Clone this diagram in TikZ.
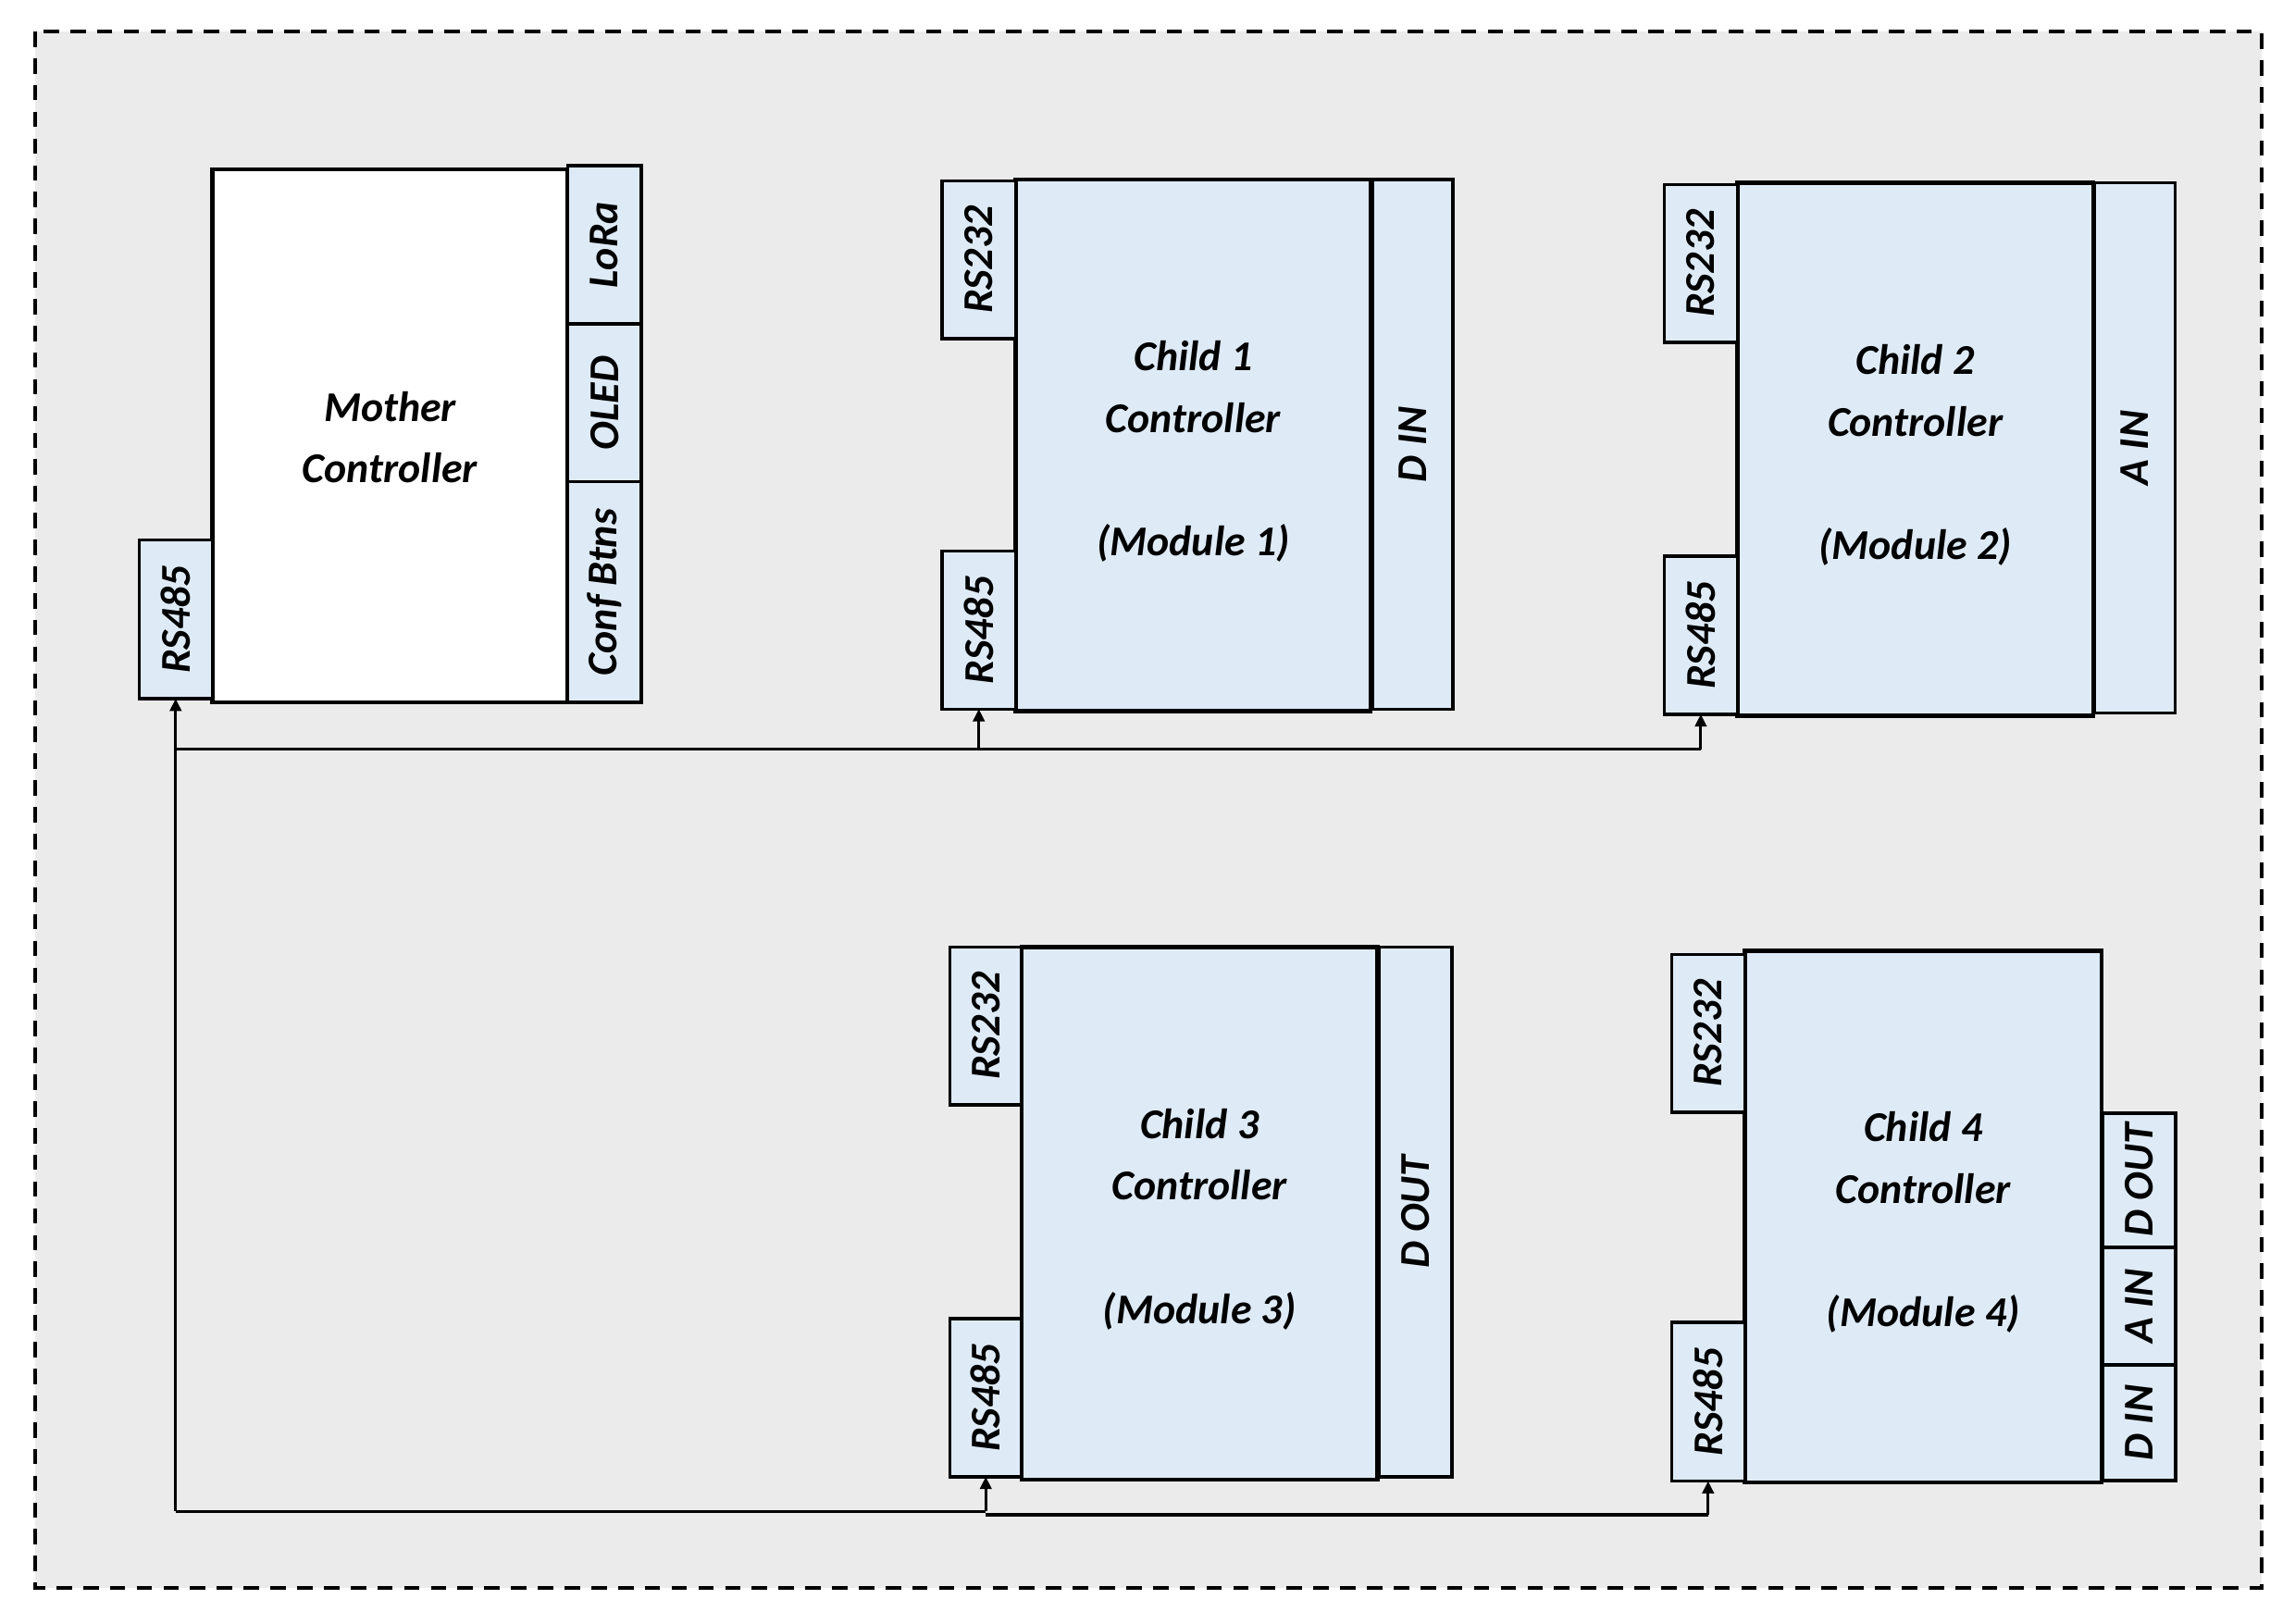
\documentclass[tikz,border=0pt]{standalone}
\usepackage{fontspec}
\setmainfont{Carlito}
\usetikzlibrary{arrows.meta}
\definecolor{bggray}{HTML}{EBEBEB}
\definecolor{lblue}{HTML}{DEEBF7}
\newcommand\bx[7]{\node[#6, minimum width={(#4-#2)*0.02cm}, minimum height={(#5-#3)*0.02cm}] (#1) at ({(#2+#4)/2},{(#3+#5)/2}) {#7};}
\tikzset{
  mainbox/.style={draw=black, line width=1.6pt, fill=lblue, inner sep=0pt, outer sep=0pt},
  motherbox/.style={mainbox, fill=white},
  maintext/.style={align=center, inner sep=0pt, font=\fontsize{16.5}{24}\selectfont\bfseries\itshape},
  portbox/.style={draw=black, line width=1.25pt, fill=lblue, inner sep=0pt, outer sep=0pt},
  porttext/.style={rotate=90, inner sep=0pt, font=\fontsize{16.5}{20}\selectfont\bfseries\itshape},
  busline/.style={line width=1.1pt, draw=black},
  busarrow/.style={line width=1.1pt, draw=black, -{Triangle[length=4.8pt,width=4.5pt]}},
}
\begin{document}
\begin{tikzpicture}[x=0.02cm, y=-0.02cm]
\useasboundingbox (0,0) rectangle (1568,1109);
\fill[white] (0,0) rectangle (1568,1109);
\draw[fill=bggray, line width=1.4pt, dash pattern=on 6pt off 4.4pt] (24,21.5) rectangle (1545,1085);

% Mother controller
\bx{mother}{145}{115.6}{388}{480}{motherbox}{}
\node[maintext] (mothert) at ([yshift=-0.02cm]mother.center) {Mother\\Controller};
\bx{mlora}{388}{113.2}{438}{221.4}{portbox}{}
\bx{moled}{388}{221.4}{438}{329.2}{portbox}{}
\bx{mconf}{388}{329.2}{438}{480}{portbox}{}
\bx{mrs485}{95}{368.8}{145}{477.4}{portbox}{}
\node[porttext] (mlorat) at (mlora) {LoRa};
\node[porttext] (moledt) at (moled) {OLED};
\node[porttext] (mconft) at (mconf) {Conf Btns};
\node[porttext] (mrs485t) at (mrs485) {RS485};

% Child 1
\bx{c1}{694}{122.8}{936.5}{486}{mainbox}{}
\node[maintext] (c1t) at ([yshift=-0.08cm]c1.center) {Child 1\\Controller\\\mbox{}\\(Module 1)};
\bx{c1rs232}{643.5}{123.5}{694}{231.4}{portbox}{}
\bx{c1rs485}{643.5}{376.5}{694}{484.5}{portbox}{}
\bx{c1din}{937.7}{122.8}{992.7}{484.5}{portbox}{}
\node[porttext] (c1rs232t) at (c1rs232) {RS232};
\node[porttext] (c1rs485t) at (c1rs485) {RS485};
\node[porttext] (c1dint) at (c1din) {D IN};

% Child 2
\bx{c2}{1187}{125}{1430}{489}{mainbox}{}
\node[maintext] (c2t) at ([yshift=-0.08cm]c2.center) {Child 2\\Controller\\\mbox{}\\(Module 2)};
\bx{c2rs232}{1137}{126}{1187}{234}{portbox}{}
\bx{c2rs485}{1137}{380}{1187}{488}{portbox}{}
\bx{c2ain}{1431}{125}{1486}{487}{portbox}{}
\node[porttext] (c2rs232t) at (c2rs232) {RS232};
\node[porttext] (c2rs485t) at (c2rs485) {RS485};
\node[porttext] (c2aint) at (c2ain) {A IN};

% Child 3
\bx{c3}{698}{647}{941}{1011}{mainbox}{}
\node[maintext] (c3t) at ([yshift=-0.08cm]c3.center) {Child 3\\Controller\\\mbox{}\\(Module 3)};
\bx{c3rs232}{649}{647}{698}{755}{portbox}{}
\bx{c3rs485}{649}{901}{698}{1009}{portbox}{}
\bx{c3dout}{942}{647}{992}{1009}{portbox}{}
\node[porttext] (c3rs232t) at (c3rs232) {RS232};
\node[porttext] (c3rs485t) at (c3rs485) {RS485};
\node[porttext] (c3doutt) at (c3dout) {D OUT};

% Child 4
\bx{c4}{1192}{649.5}{1436}{1013}{mainbox}{}
\node[maintext] (c4t) at ([yshift=-0.08cm]c4.center) {Child 4\\Controller\\\mbox{}\\(Module 4)};
\bx{c4rs232}{1142}{652}{1192}{760}{portbox}{}
\bx{c4rs485}{1142}{903.5}{1192}{1012}{portbox}{}
\bx{c4dout}{1436.5}{760.6}{1486.5}{852.3}{portbox}{}
\bx{c4ain}{1436.5}{852.3}{1486.5}{932.6}{portbox}{}
\bx{c4din}{1436.5}{932.6}{1486.5}{1011.7}{portbox}{}
\node[porttext] (c4rs232t) at (c4rs232) {RS232};
\node[porttext] (c4rs485t) at (c4rs485) {RS485};
\node[porttext] (c4doutt) at (c4dout) {D OUT};
\node[porttext] (c4aint) at (c4ain) {A IN};
\node[porttext] (c4dint) at (c4din) {D IN};

% Buses
\coordinate (tb) at (0,512);
\coordinate (bb) at (0,1032.5);
\coordinate (bb2) at (0,1035);
\draw[busline] (mrs485.south |- tb) -- (c2rs485.south |- tb);
\draw[busline] (mrs485.south |- bb) -- (c3rs485.south |- bb);
\draw[busline] (c3rs485.south |- bb2) -- (c4rs485.south |- bb2);
\draw[busarrow] (mrs485.south |- bb) -- (mrs485.south);
\draw[busarrow] (c1rs485.south |- tb) -- (c1rs485.south);
\draw[busarrow] (c2rs485.south |- tb) -- (c2rs485.south);
\draw[busarrow] (c3rs485.south |- bb) -- (c3rs485.south);
\draw[busarrow] (c4rs485.south |- bb2) -- (c4rs485.south);
\end{tikzpicture}
\end{document}
